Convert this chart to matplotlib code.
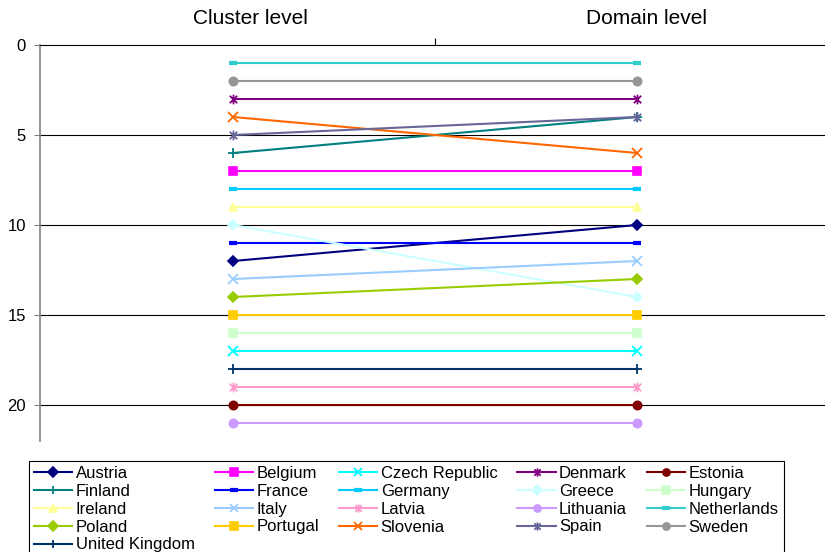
import matplotlib.pyplot as plt
from matplotlib.path import Path

plt.rcParams['font.family'] = ['Liberation Sans', 'DejaVu Sans']

levels = ['Cluster level', 'Domain level']

countries = ['Austria', 'Belgium', 'Czech Republic', 'Denmark', 'Estonia',
             'Finland', 'France', 'Germany', 'Greece', 'Hungary',
             'Ireland', 'Italy', 'Latvia', 'Lithuania', 'Netherlands',
             'Poland', 'Portugal', 'Slovenia', 'Spain', 'Sweden',
             'United Kingdom']

# rank at cluster level, rank at domain level
cluster_rank = [12, 7, 17, 3, 20, 6, 11, 8, 10, 16, 9, 13, 19, 21, 1, 14, 15, 4, 5, 2, 18]
domain_rank = [10, 7, 17, 3, 20, 4, 11, 8, 14, 16, 9, 12, 19, 21, 1, 13, 15, 6, 4, 2, 18]

colors = ['#000080', '#FF00FF', '#00FFFF', '#800080', '#800000',
          '#008080', '#0000FF', '#00CCFF', '#CCFFFF', '#CCFFCC',
          '#FFFF99', '#99CCFF', '#FF99CC', '#CC99FF', '#33CCCC',
          '#99CC00', '#FFCC00', '#FF6600', '#666699', '#969696',
          '#003366']

# excel style asterisk: an x with a vertical bar
star = Path([(-1, -1), (1, 1), (-1, 1), (1, -1), (0, -1.3), (0, 1.3)],
            [Path.MOVETO, Path.LINETO, Path.MOVETO, Path.LINETO, Path.MOVETO, Path.LINETO])

markers = ['D', 's', 'x', star, 'o',
           '+', '_', '_', 'D', 's',
           '^', 'x', star, 'o', '_',
           'D', 's', 'x', star, 'o',
           '+']

W, H = 825, 552
fig = plt.figure(figsize=(W / 100, H / 100), dpi=100)
ax = fig.add_axes([40 / W, 1 - 441 / H, 785 / W, 396 / H])

handles = {}
for name, c, d, col, m in zip(countries, cluster_rank, domain_rank, colors, markers):
    ms = 6
    mew = 1.2
    if m == '_':
        ms, mew = 6, 3
    elif m in ('x', '+') or m is star:
        ms, mew = 7, 1.3
    elif m == 'D':
        ms = 5.5
    line, = ax.plot([0, 1], [c, d], color=col, lw=1.5, marker=m, ms=ms,
                    mec=col, mfc=col, mew=mew, label=name, clip_on=False, zorder=3)
    handles[name] = line

ax.set_xlim(-0.478, 1.465)
ax.set_ylim(22, 0)
ax.set_yticks([0, 5, 10, 15, 20])
ax.tick_params(axis='y', direction='out', length=4, color='#808080', labelsize=12, pad=6)
for y in [5, 10, 15, 20]:
    ax.axhline(y, color='black', lw=0.8, zorder=1)

ax.xaxis.tick_top()
ax.set_xticks([0.5])
ax.set_xticklabels([''])
ax.tick_params(axis='x', direction='out', length=5, color='black', width=0.8)

for s in ['right', 'bottom']:
    ax.spines[s].set_visible(False)
ax.spines['top'].set_color('black')
ax.spines['top'].set_linewidth(0.8)
ax.spines['left'].set_color('#808080')
ax.spines['left'].set_linewidth(1.2)

fig.text(250 / W, 1 - 24 / H, levels[0], fontsize=15, ha='center', va='baseline')
fig.text(647 / W, 1 - 24 / H, levels[1], fontsize=15, ha='center', va='baseline')

# legend is filled column by column, so order entries to read row by row
ncol = 5
order = [countries[i::ncol] for i in range(ncol)]
order = [n for col in order for n in col]
leg = fig.legend([handles[n] for n in order], order, ncol=ncol,
                 loc='upper left', bbox_to_anchor=(29 / W, 1 - 461 / H),
                 fontsize=12, handlelength=2.3, handletextpad=0.2,
                 labelspacing=0.17, columnspacing=1.2, borderpad=0.3,
                 borderaxespad=0, fancybox=False, edgecolor='black',
                 framealpha=1, markerscale=0.85)
leg.get_frame().set_linewidth(0.8)

fig.savefig('out.png', dpi=100)
